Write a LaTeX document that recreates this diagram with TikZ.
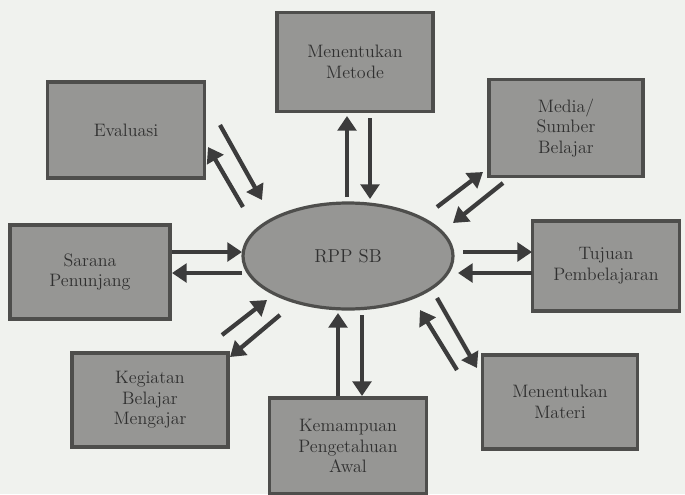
\documentclass[tikz,border=0pt]{standalone}
\usetikzlibrary{arrows.meta,shapes.geometric}
\definecolor{paper}{RGB}{240,242,238}
\definecolor{boxfill}{RGB}{150,150,148}
\definecolor{boxline}{RGB}{78,78,76}
\definecolor{ink}{RGB}{60,60,60}
\begin{document}
\begin{tikzpicture}[x=0.75pt,y=-0.75pt,
  box/.style={draw=boxline,fill=boxfill,line width=2.6pt,inner sep=0pt,
    align=center,text=ink!80!black,font=\fontsize{13.5}{15.5}\selectfont},
  oval/.style={ellipse,draw=boxline,fill=boxfill,line width=2.4pt,inner sep=0pt,
    align=center,text=ink!80!black,font=\fontsize{14}{16}\selectfont},
  arr/.style={draw=ink,line width=3.2pt,-{Triangle[length=11pt,width=14pt]}}]
\fill[paper] (0,0) rectangle (685,494);
\useasboundingbox (0,0) rectangle (685,494);

\node[oval,minimum width={210*0.75},minimum height={106*0.75}] (e) at (348,256) {RPP SB};

\node[box,minimum width={156*0.75},minimum height={99*0.75}] (t) at (355,62) {Menentukan\\Metode};
\node[box,minimum width={157*0.75},minimum height={96*0.75}] (tl) at (126,130) {Evaluasi};
\node[box,minimum width={154*0.75},minimum height={97*0.75}] (tr) at (566,128) {Media/\\Sumber\\Belajar};
\node[box,minimum width={160*0.75},minimum height={94*0.75}] (l) at (90,272) {Sarana\\Penunjang};
\node[box,minimum width={147*0.75},minimum height={90*0.75}] (r) at (606,266) {Tujuan\\Pembelajaran};
\node[box,minimum width={156*0.75},minimum height={94*0.75}] (bl) at (150,400) {Kegiatan\\Belajar\\Mengajar};
\node[box,minimum width={157*0.75},minimum height={96*0.75}] (b) at (348,446) {Kemampuan\\Pengetahuan\\Awal};
\node[box,minimum width={155*0.75},minimum height={94*0.75}] (br) at (560,402) {Menentukan\\Materi};

% top
\coordinate (t1a) at (347,197); \coordinate (t1b) at (347,116);
\coordinate (t2a) at (370,118); \coordinate (t2b) at (370,199);
\draw[arr] (t1a) -- (t1b);
\draw[arr] (t2a) -- (t2b);
% bottom
\coordinate (b1a) at (338,396); \coordinate (b1b) at (338,313);
\coordinate (b2a) at (362,315); \coordinate (b2b) at (362,396);
\draw[arr] (b1a) -- (b1b);
\draw[arr] (b2a) -- (b2b);
% left
\coordinate (l1a) at (172,252); \coordinate (l1b) at (242,252);
\coordinate (l2a) at (242,273); \coordinate (l2b) at (172,273);
\draw[arr] (l1a) -- (l1b);
\draw[arr] (l2a) -- (l2b);
% right
\coordinate (r1a) at (463,252); \coordinate (r1b) at (532,252);
\coordinate (r2a) at (532,273); \coordinate (r2b) at (458,273);
\draw[arr] (r1a) -- (r1b);
\draw[arr] (r2a) -- (r2b);
% top-left
\coordinate (tl1a) at (220,125); \coordinate (tl1b) at (262,200);
\coordinate (tl2a) at (243,207); \coordinate (tl2b) at (208,147);
\draw[arr] (tl1a) -- (tl1b);
\draw[arr] (tl2a) -- (tl2b);
% top-right
\coordinate (tr1a) at (437,207); \coordinate (tr1b) at (483,172);
\coordinate (tr2a) at (503,183); \coordinate (tr2b) at (453,223);
\draw[arr] (tr1a) -- (tr1b);
\draw[arr] (tr2a) -- (tr2b);
% bottom-left
\coordinate (bl1a) at (222,335); \coordinate (bl1b) at (267,300);
\coordinate (bl2a) at (280,315); \coordinate (bl2b) at (230,357);
\draw[arr] (bl1a) -- (bl1b);
\draw[arr] (bl2a) -- (bl2b);
% bottom-right
\coordinate (br1a) at (457,370); \coordinate (br1b) at (420,310);
\coordinate (br2a) at (437,298); \coordinate (br2b) at (477,368);
\draw[arr] (br1a) -- (br1b);
\draw[arr] (br2a) -- (br2b);
\end{tikzpicture}
\end{document}
